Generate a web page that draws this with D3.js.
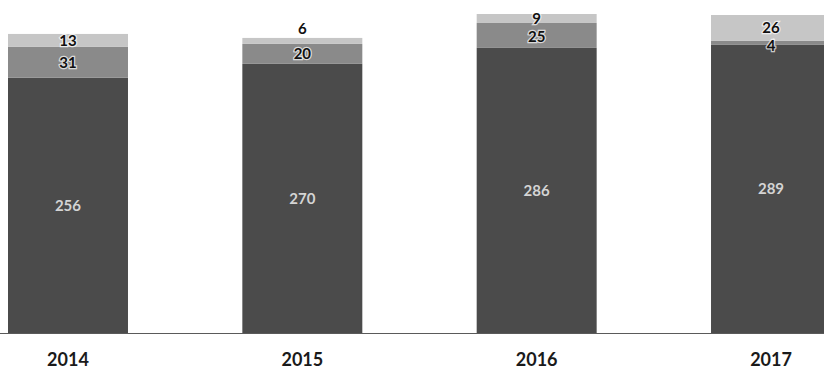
<!DOCTYPE html>
<html>
<head>
<meta charset="utf-8">
<script src="https://cdn.jsdelivr.net/npm/d3@7/dist/d3.min.js"></script>
<style>
  html, body { margin: 0; padding: 0; background: #ffffff; }
  svg { display: block; }
</style>
</head>
<body>
<svg id="chart" width="824" height="376"></svg>
<script>
// Years on the x axis
const years = ["2014", "2015", "2016", "2017"];
// Stacked series, bottom to top
const baseValues = [256, 270, 286, 289];
const middleValues = [31, 20, 25, 4];
const topValues = [13, 6, 9, 26];

const seriesKeys = ["base", "middle", "top"];
const seriesColors = { base: "#4b4b4b", middle: "#8a8a8a", top: "#c6c6c6" };
const labelColors = { base: "#d4d4d4", middle: "#111111", top: "#111111" };

const rows = years.map((year, i) => ({
  year,
  base: baseValues[i],
  middle: middleValues[i],
  top: topValues[i]
}));

const W = 824;
const baselineY = 333, topY = 14;

const svg = d3.select("#chart");

const x = d3.scaleBand()
  .domain(years)
  .range([8, 831])
  .paddingInner(0.488)
  .paddingOuter(0);

const totals = rows.map(r => r.base + r.middle + r.top);
const y = d3.scaleLinear()
  .domain([0, d3.max(totals)])
  .range([baselineY, topY]);

const stacked = d3.stack().keys(seriesKeys)(rows);

// Bars
const layers = svg.append("g").attr("class", "bars")
  .selectAll("g")
  .data(stacked)
  .join("g")
  .attr("fill", d => seriesColors[d.key]);

layers.selectAll("rect")
  .data(d => d)
  .join("rect")
  .attr("x", d => x(d.data.year))
  .attr("y", d => y(d[1]))
  .attr("width", x.bandwidth())
  .attr("height", d => y(d[0]) - y(d[1]));

// Baseline across the plot
svg.append("line")
  .attr("x1", 0).attr("x2", W)
  .attr("y1", baselineY + 0.5).attr("y2", baselineY + 0.5)
  .attr("stroke", "#5a5a5a")
  .attr("stroke-width", 1.2);

// Segment value labels. Working from the top of each bar down, a label
// sits at its segment's centre; a top segment too thin for text gets its
// label just above the bar, and a lower label is nudged down when it
// would crowd the one above it.
const fontSize = 15;
const minGap = 18;
const labels = [];
rows.forEach((row, i) => {
  let prevY = -Infinity;
  for (let k = stacked.length - 1; k >= 0; k--) {
    const layer = stacked[k];
    const seg = layer[i];
    const segH = y(seg[0]) - y(seg[1]);
    let cy = (y(seg[0]) + y(seg[1])) / 2;
    let above = false;
    if (k === stacked.length - 1 && segH < 8) {
      cy = y(seg[1]) - 9;
      above = true;
    }
    if (cy - prevY < minGap) cy = prevY + minGap;
    prevY = cy;
    labels.push({ key: layer.key, year: row.year, value: seg[1] - seg[0], cy, above });
  }
});

svg.append("g").attr("class", "labels")
  .selectAll("text")
  .data(labels)
  .join("text")
  .attr("x", d => x(d.year) + x.bandwidth() / 2)
  .attr("y", d => d.cy)
  .attr("dy", "0.35em")
  .attr("text-anchor", "middle")
  .attr("font-family", "Lato, 'Open Sans', sans-serif")
  .attr("font-weight", 700)
  .attr("font-size", fontSize)
  .attr("fill", d => d.above ? "#111111" : labelColors[d.key])
  .attr("stroke", d => d.key === "base" ? "none" : "#ffffff")
  .attr("stroke-width", d => d.key === "base" ? 0 : 2.5)
  .attr("stroke-opacity", 0.7)
  .attr("paint-order", "stroke")
  .text(d => d.value);

// Category axis labels
const xAxis = d3.axisBottom(x).tickSize(0).tickPadding(0);
const axisG = svg.append("g")
  .attr("transform", `translate(0, ${baselineY + 20})`)
  .call(xAxis);
axisG.select(".domain").remove();
axisG.selectAll("text")
  .attr("font-family", "Lato, 'Open Sans', sans-serif")
  .attr("font-weight", 700)
  .attr("font-size", 18)
  .attr("fill", "#1a1a1a")
  .attr("dy", "0.71em");
</script>
</body>
</html>
